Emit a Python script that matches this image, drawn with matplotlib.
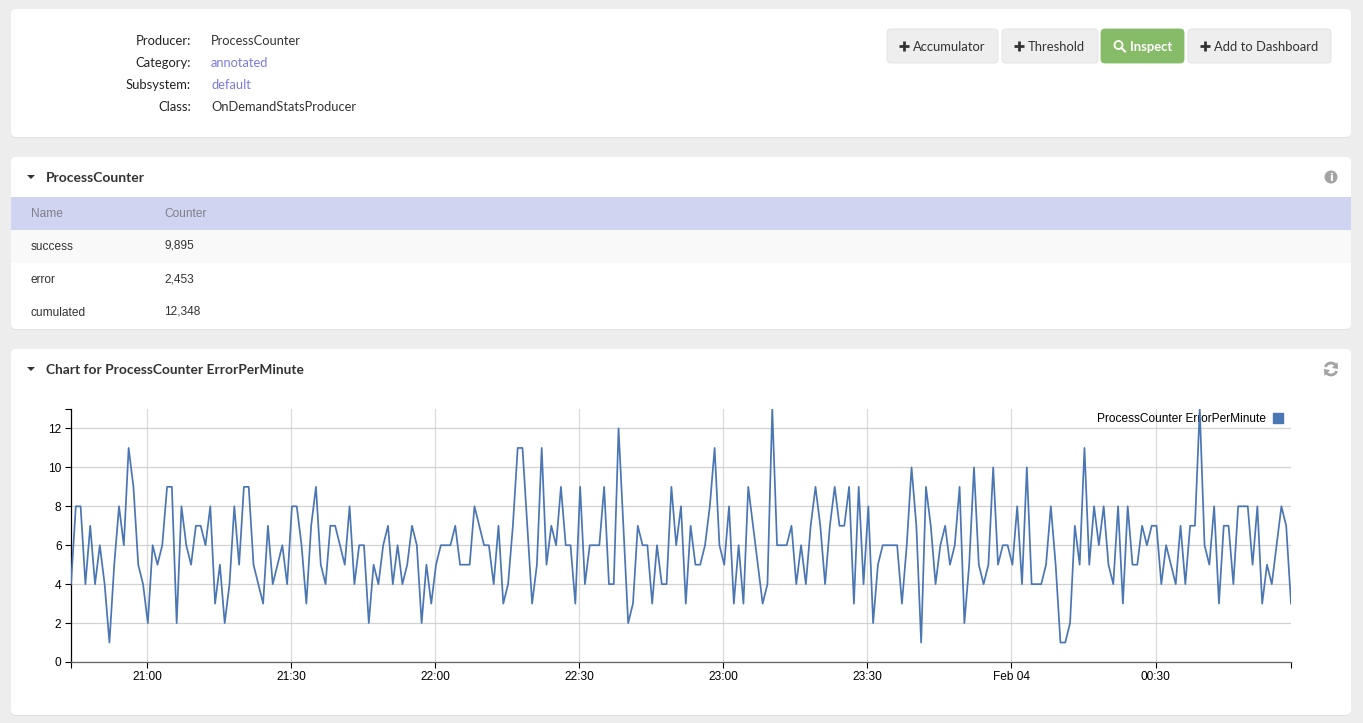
import pandas as pd
import matplotlib
matplotlib.use('Agg')
import matplotlib.pyplot as plt
import matplotlib.dates as mdates
from matplotlib.patches import FancyBboxPatch, Rectangle, Polygon, Circle, Arc, Patch

# errors per minute
error_per_minute = [
    4, 8, 8, 4, 7, 4, 6, 4, 1, 5, 8, 6, 11, 9, 5, 4, 2, 6, 5, 6, 9, 9, 2, 8, 6, 5, 7, 7, 6, 8,
    3, 5, 2, 4, 8, 5, 9, 9, 5, 4, 3, 7, 4, 5, 6, 4, 8, 8, 6, 3, 7, 9, 5, 4, 7, 7, 6, 5, 8, 4,
    6, 6, 2, 5, 4, 6, 7, 4, 6, 4, 5, 7, 6, 2, 5, 3, 5, 6, 6, 6, 7, 5, 5, 5, 8, 7, 6, 6, 4, 7,
    3, 4, 7, 11, 11, 7, 3, 5, 11, 5, 7, 6, 9, 6, 6, 3, 9, 4, 6, 6, 6, 9, 4, 4, 12, 7, 2, 3, 7, 6,
    6, 3, 6, 4, 4, 9, 6, 8, 3, 7, 5, 5, 6, 8, 11, 6, 5, 8, 3, 6, 3, 9, 7, 5, 3, 4, 13, 6, 6, 6,
    7, 4, 6, 4, 7, 9, 7, 4, 7, 9, 7, 7, 9, 3, 9, 4, 8, 2, 5, 6, 6, 6, 6, 3, 6, 10, 7, 1, 9, 7,
    4, 6, 7, 5, 6, 9, 2, 5, 10, 5, 4, 5, 10, 5, 6, 6, 5, 8, 4, 10, 4, 4, 4, 5, 8, 5, 1, 1, 2, 7,
    5, 11, 5, 8, 6, 8, 5, 4, 8, 3, 8, 5, 5, 7, 6, 7, 7, 4, 6, 5, 4, 7, 4, 7, 7, 13, 6, 5, 8, 3,
    7, 7, 4, 8, 8, 8, 5, 8, 3, 5, 4, 6, 8, 7, 3,
]
times = pd.date_range('2016-02-03 20:44:12', periods=len(error_per_minute), freq='min')

y_ticks = [0, 2, 4, 6, 8, 10, 12]
series_name = 'ProcessCounter ErrorPerMinute'

info_labels = ['Producer:', 'Category:', 'Subsystem:', 'Class:']
info_values = ['ProcessCounter', 'annotated', 'default', 'OnDemandStatsProducer']
table_names = ['success', 'error', 'cumulated']
table_counts = ['9,895', '2,453', '12,348']

W, H = 1363, 723
LATO = 'Lato'
HELV = 'Liberation Sans'
DARK = '#333333'

fig = plt.figure(figsize=(W / 100, H / 100), dpi=100, facecolor='#ededed')

# page layer in pixel coordinates
page = fig.add_axes([0, 0, 1, 1])
page.set_xlim(0, W)
page.set_ylim(H, 0)
page.axis('off')


def card(y0, y1):
    page.add_patch(FancyBboxPatch((11, y0 + 1), 1340, y1 - y0, boxstyle='round,pad=0,rounding_size=5',
                                  fc='#e0e0e0', ec='none'))
    page.add_patch(FancyBboxPatch((11, y0), 1340, y1 - y0, boxstyle='round,pad=0,rounding_size=5',
                                  fc='white', ec='none'))


def button(x0, x1, label, fc='#eeeeee', ec='#e2e2e2', color=DARK, icon='plus'):
    page.add_patch(FancyBboxPatch((x0, 29), x1 - x0, 34, boxstyle='round,pad=0,rounding_size=4',
                                  fc=fc, ec=ec, lw=0.6))
    tx = x0 + 12
    if icon == 'plus':
        page.plot([tx, tx + 10], [46, 46], color=color, lw=2.0, solid_capstyle='butt')
        page.plot([tx + 5, tx + 5], [41, 51], color=color, lw=2.0, solid_capstyle='butt')
        page.text(tx + 14, 46, label, family=LATO, fontsize=9.35, color=color, va='center_baseline')
    else:
        page.add_patch(Circle((tx + 5.5, 45), 4, fc='none', ec=color, lw=1.3))
        page.plot([tx + 8.5, tx + 12], [48, 51.5], color=color, lw=1.5)
        page.text(tx + 17, 46, label, family=LATO, fontsize=9.35, color=color, va='center_baseline',
                  weight='bold')


def caret(y):
    page.add_patch(Polygon([(27, y - 2), (35, y - 2), (31, y + 2)], fc=DARK, ec='none'))


card(9, 137)
card(157, 329)
card(349, 715)

# info block
for i in range(4):
    y = 40 + i * 22
    page.text(191, y, info_labels[i], family=LATO, fontsize=9.4, color='#222222', ha='right',
              va='center_baseline')
    c = '#7b7be0' if i in (1, 2) else DARK
    page.text(211, y, info_values[i], family=LATO, fontsize=9.3, color=c, va='center_baseline')

button(887, 998, 'Accumulator')
button(1002, 1098, 'Threshold')
button(1101, 1184, 'Inspect', fc='#86bb67', ec='#86bb67', color='white', icon='search')
button(1188, 1331, 'Add to Dashboard')

# counter table
caret(177)
page.text(46, 177, 'ProcessCounter', family=LATO, fontsize=10, color=DARK, weight='bold',
          va='center_baseline')
page.add_patch(Circle((1331, 177), 6.5, fc='#a3a3a3', ec='none'))
page.text(1331, 177, 'i', family='DejaVu Sans', fontsize=8, weight='bold', color='white',
          ha='center', va='center_baseline')
page.add_patch(Rectangle((11, 197), 1340, 33, fc='#cfd4f0', ec='none'))
page.add_patch(Rectangle((11, 230), 1340, 33, fc='#f9f9f9', ec='none'))
page.text(30.5, 217, 'Name', family=HELV, fontsize=8.6, color='#80808a')
page.text(164.5, 217, 'Counter', family=HELV, fontsize=8.6, color='#80808a')
for i in range(3):
    y = 250 + i * 33
    page.text(30.5, y, table_names[i], family=HELV, fontsize=8.6, color=DARK)
    page.text(164.5, y - 1, table_counts[i], family=HELV, fontsize=8.6, color=DARK)

# chart panel title
caret(369)
page.text(46, 369, 'Chart for ProcessCounter ErrorPerMinute', family=LATO, fontsize=9.92, color=DARK,
          weight='bold', va='center_baseline')
page.add_patch(Arc((1331, 369), 12, 12, theta1=200, theta2=340, color='#a3a3a3', lw=2))
page.add_patch(Arc((1331, 369), 12, 12, theta1=20, theta2=160, color='#a3a3a3', lw=2))
page.add_patch(Polygon([(1337.5, 362), (1338, 369), (1332, 368)], fc='#a3a3a3', ec='none'))
page.add_patch(Polygon([(1324.5, 376), (1324, 369), (1330, 370)], fc='#a3a3a3', ec='none'))

# the chart itself
left, right, top, bottom = 71, 1291, 409, 662
ax = fig.add_axes([left / W, 1 - bottom / H, (right - left) / W, (bottom - top) / H], facecolor='white')
ax.plot(times, error_per_minute, color='#4a76b4', lw=1.25, zorder=3)
ax.set_xlim(times[0], times[-1])
ax.set_ylim(0, 13)

ax.xaxis.set_major_locator(mdates.MinuteLocator(byminute=[0, 30]))
ax.xaxis.set_major_formatter(plt.FuncFormatter(
    lambda v, pos: 'Feb 04' if mdates.num2date(v).strftime('%H:%M') == '00:00'
    else mdates.num2date(v).strftime('%H:%M')))
ax.set_yticks(y_ticks)
# d3 style outer ticks at the ends of each axis
ax.set_xticks([mdates.date2num(times[0]), mdates.date2num(times[-1])], minor=True)
ax.set_yticks([13], minor=True)
ax.tick_params(axis='both', which='both', length=4.3, width=0.8, color='black', labelsize=8.6,
               labelcolor='black', pad=2.5)
for lab in ax.get_xticklabels() + ax.get_yticklabels():
    lab.set_family(HELV)
ax.grid(True, which='major', axis='y', color='#d2d2d2', lw=0.9)
ax.grid(True, which='major', axis='x', color='#dcdcdc', lw=0.9)
ax.set_axisbelow(True)

for s in ('top', 'right'):
    ax.spines[s].set_visible(False)
ax.spines['left'].set_color('black')
ax.spines['left'].set_linewidth(0.9)
ax.spines['bottom'].set_color('#666666')
ax.spines['bottom'].set_linewidth(0.9)

leg = ax.legend(handles=[Patch(color='#4a76b4', label=series_name)], loc='upper right',
                bbox_to_anchor=((1287 - left) / (right - left), 1.0), borderaxespad=0, borderpad=0.35,
                frameon=False, markerfirst=False, handlelength=0.83, handleheight=0.83,
                handletextpad=0.6, prop={'family': HELV, 'size': 8.6})
leg.set_zorder(2)

fig.savefig('out.png', dpi=100, facecolor=fig.get_facecolor())
